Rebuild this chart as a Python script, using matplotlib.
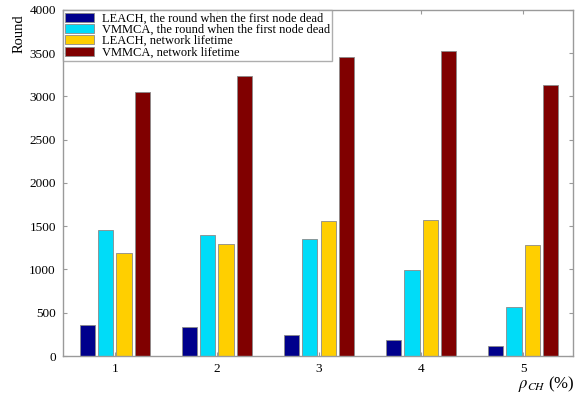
import numpy as np
import matplotlib
matplotlib.use("Agg")
import matplotlib.pyplot as plt

# values
rho_ch = [1, 2, 3, 4, 5]
leach_first_dead = [362, 336, 240, 186, 116]
vmmca_first_dead = [1462, 1398, 1352, 994, 563]
leach_lifetime = [1186, 1290, 1560, 1572, 1283]
vmmca_lifetime = [3047, 3235, 3460, 3530, 3127]

series = [
    ("LEACH, the round when the first node dead", leach_first_dead, "#00008c"),
    ("VMMCA, the round when the first node dead", vmmca_first_dead, "#00dcf8"),
    ("LEACH, network lifetime", leach_lifetime, "#ffcf00"),
    ("VMMCA, network lifetime", vmmca_lifetime, "#800000"),
]

plt.rcParams["font.family"] = ["Liberation Serif", "DejaVu Serif"]
plt.rcParams["mathtext.fontset"] = "stix"

fig = plt.figure(figsize=(5.76, 3.98), dpi=100)
ax = fig.add_axes([0.109, 0.1055, 0.886, 0.8695])

x = np.arange(len(rho_ch)) + 1
pitch = 0.18
width = 0.15
for i, (name, vals, col) in enumerate(series):
    ax.bar(x + (i - 1.5) * pitch, vals, width, color=col, label=name,
           edgecolor="#8a8a8a", linewidth=0.6)

ax.set_xlim(0.49, 5.49)
ax.set_ylim(0, 4000)
ax.set_xticks(x)
ax.set_xticklabels([str(v) for v in rho_ch])
ax.set_yticks(np.arange(0, 4001, 500))
ax.tick_params(direction="in", top=True, right=True, length=3,
               color="#9a9a9a", labelsize=9.5, pad=5)
for s in ax.spines.values():
    s.set_color("#9a9a9a")
    s.set_linewidth(1.0)

ax.text(-0.085, 0.93, "Round", transform=ax.transAxes, rotation=90,
        ha="center", va="center", fontsize=10.5)
fig.text(0.998, 0.035, r"$\rho_{CH}$ (%)", ha="right", va="center", fontsize=12)

leg = ax.legend(loc="upper left", bbox_to_anchor=(0.0, 1.0), fontsize=9,
                frameon=True, fancybox=False, borderaxespad=0,
                labelspacing=-0.05, handlelength=2.3, handleheight=0.75,
                handletextpad=0.6, borderpad=0.2)
leg.get_frame().set_edgecolor("#9a9a9a")
leg.get_frame().set_linewidth(1.0)

fig.savefig("out.png", dpi=100)
